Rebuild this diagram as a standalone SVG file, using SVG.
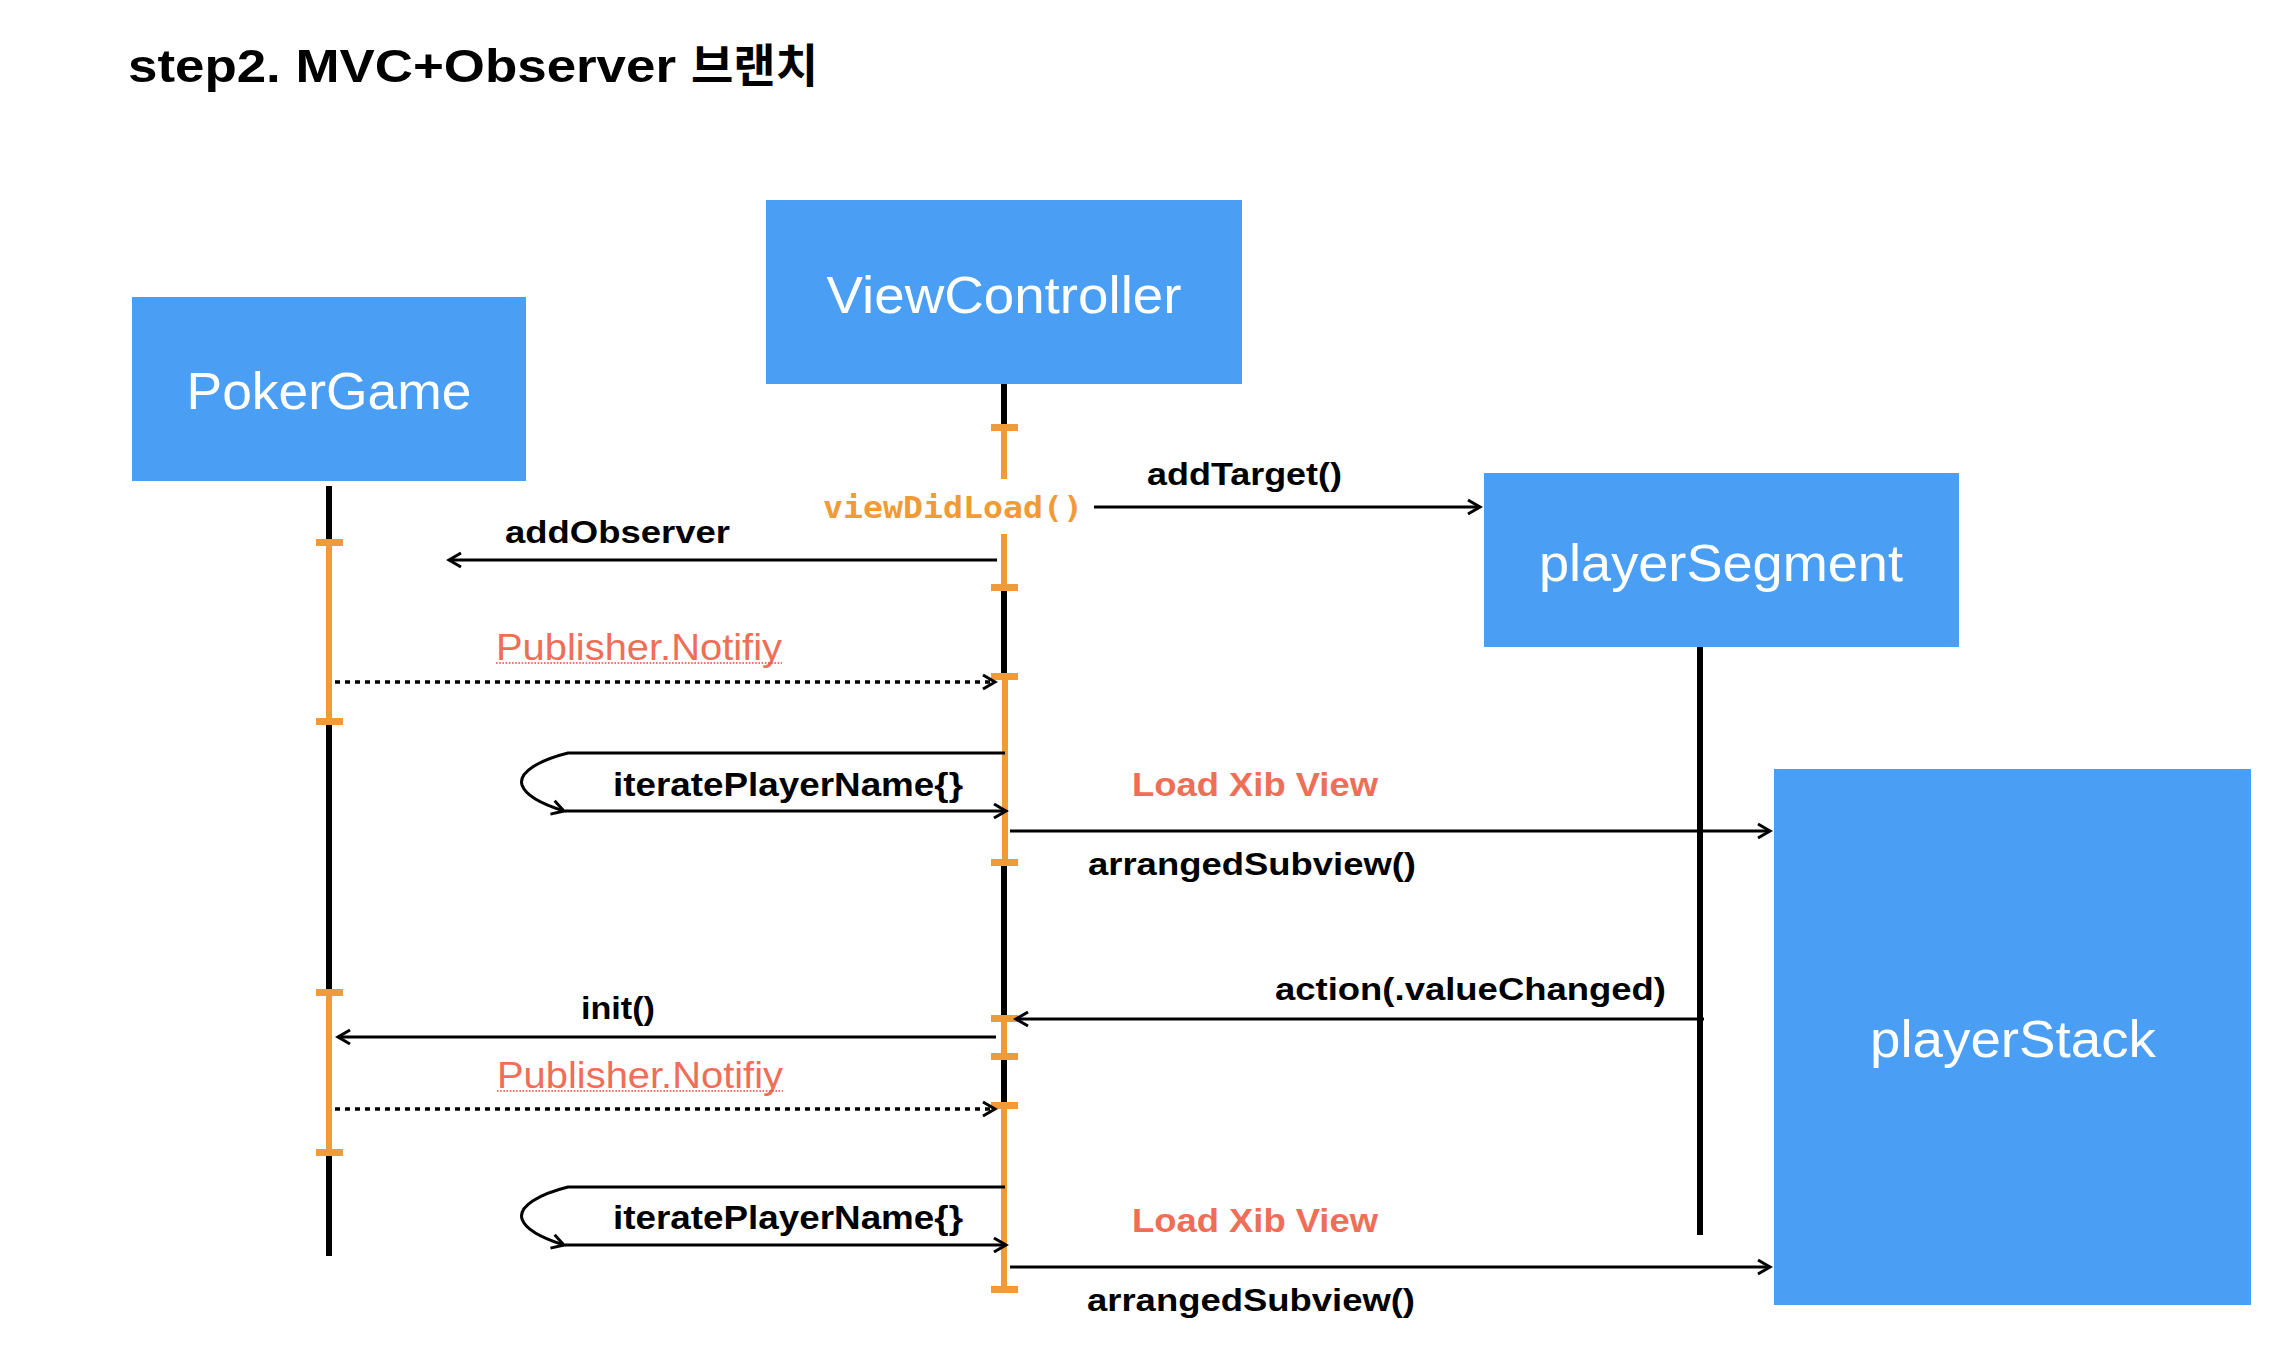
<svg xmlns="http://www.w3.org/2000/svg" width="2292" height="1360" viewBox="0 0 2292 1360">
<style>
.box{fill:#4A9FF5}
.bl{fill:#fff;font-family:"Liberation Sans",Arial,sans-serif;font-size:52px;text-anchor:middle}
.life{stroke:#000;stroke-width:6;fill:none}
.act{stroke:#F19A38;stroke-width:6;fill:none}
.tick{fill:#F19A38}
.msg{stroke:#000;stroke-width:3;fill:none}
.dot{stroke:#000;stroke-width:3.5;fill:none;stroke-dasharray:5 5}
.lb{font-family:"Liberation Sans",Arial,sans-serif;font-weight:bold;font-size:31px;fill:#000}
.red{font-family:"Liberation Sans",Arial,sans-serif;font-size:37px;fill:#EF6E57}
.redb{font-family:"Liberation Sans",Arial,sans-serif;font-weight:bold;font-size:33px;fill:#EF6E57}
.mono{font-family:"DejaVu Sans Mono","Liberation Mono",monospace;font-weight:bold;font-size:30px;fill:#F19A38}
.uline{stroke:#E8483A;stroke-width:1.6;stroke-dasharray:1.6 1.6}
</style>
<defs>
<marker id="arr" markerUnits="userSpaceOnUse" markerWidth="20" markerHeight="20" viewBox="-15 -10 18 20" refX="0" refY="0" orient="auto">
<path d="M-12,-7 L0,0 L-12,7" fill="none" stroke="#000" stroke-width="3"/>
</marker>
</defs>
<rect width="2292" height="1360" fill="#fff"/>
<text x="128" y="82" style="font-family:'Liberation Sans','Noto Sans CJK KR',sans-serif;font-weight:bold;font-size:46px;fill:#000"><tspan textLength="548" lengthAdjust="spacingAndGlyphs">step2. MVC+Observer</tspan><tspan x="691" style="font-family:'Noto Sans CJK KR',sans-serif">브랜치</tspan></text>

<g id="PokerGame">
<rect class="box" x="132" y="297" width="394" height="184"/>
<text class="bl" x="329" y="409" textLength="285" lengthAdjust="spacingAndGlyphs">PokerGame</text>
<path class="life" d="M329,486 V542 M329,721 V992 M329,1152 V1256"/>
<path class="act" d="M329,542 V721 M329,992 V1152"/>
<rect class="tick" x="316" y="539" width="27" height="7"/>
<rect class="tick" x="316" y="718" width="27" height="7"/>
<rect class="tick" x="316" y="989" width="27" height="7"/>
<rect class="tick" x="316" y="1149" width="27" height="7"/>
</g>

<g id="ViewController">
<rect class="box" x="766" y="200" width="476" height="184"/>
<text class="bl" x="1004" y="313" textLength="355" lengthAdjust="spacingAndGlyphs">ViewController</text>
<path class="life" d="M1004,384 V427 M1004,587 V677 M1004,862 V1018 M1004,1056 V1106"/>
<path class="act" d="M1004,427 V479 M1004,534 V587 M1005,677 V862 M1004,1018 V1056 M1004,1106 V1290"/>
<rect class="tick" x="991" y="424" width="27" height="7"/>
<rect class="tick" x="991" y="584" width="27" height="7"/>
<rect class="tick" x="991" y="673" width="27" height="7"/>
<rect class="tick" x="991" y="859" width="27" height="7"/>
<rect class="tick" x="991" y="1015" width="27" height="7"/>
<rect class="tick" x="991" y="1053" width="27" height="7"/>
<rect class="tick" x="991" y="1102" width="27" height="7"/>
<rect class="tick" x="991" y="1286" width="27" height="7"/>
<text class="mono" x="823" y="518" textLength="260" lengthAdjust="spacingAndGlyphs">viewDidLoad()</text>
</g>

<g id="playerSegment">
<rect class="box" x="1484" y="473" width="475" height="174"/>
<text class="bl" x="1721" y="581" textLength="364" lengthAdjust="spacingAndGlyphs">playerSegment</text>
<path class="life" d="M1700,647 V1235"/>
</g>

<g id="playerStack">
<rect class="box" x="1774" y="769" width="477" height="536"/>
<text class="bl" x="2013" y="1057" textLength="286" lengthAdjust="spacingAndGlyphs">playerStack</text>
</g>

<g id="connectors">
<path class="msg" d="M1094,507 H1480" marker-end="url(#arr)"/>
<path class="msg" d="M997,560 H449" marker-end="url(#arr)"/>
<path class="dot" d="M335,682 H995" marker-end="url(#arr)"/>
<path class="msg" d="M1005,753 H568 C540,760 518,772 522,785 C526,797 548,806 564,811" marker-end="url(#arr)"/>
<path class="msg" d="M565,811 H1006" marker-end="url(#arr)"/>
<path class="msg" d="M1010,831 H1770" marker-end="url(#arr)"/>
<path class="msg" d="M1704,1019 H1016" marker-end="url(#arr)"/>
<path class="msg" d="M996,1037 H338" marker-end="url(#arr)"/>
<path class="dot" d="M335,1109 H995" marker-end="url(#arr)"/>
<path class="msg" d="M1005,1187 H568 C540,1194 518,1206 522,1219 C526,1231 548,1240 564,1245" marker-end="url(#arr)"/>
<path class="msg" d="M565,1245 H1006" marker-end="url(#arr)"/>
<path class="msg" d="M1010,1267 H1770" marker-end="url(#arr)"/>

<text class="lb" x="1147" y="485" textLength="195" lengthAdjust="spacingAndGlyphs">addTarget()</text>
<text class="lb" x="505" y="543" textLength="225" lengthAdjust="spacingAndGlyphs">addObserver</text>
<text class="red" x="496" y="660" textLength="286" lengthAdjust="spacingAndGlyphs">Publisher.Notifiy</text>
<line class="uline" x1="496" y1="663" x2="782" y2="663"/>
<text class="lb" x="613" y="796" textLength="350" lengthAdjust="spacingAndGlyphs" style="font-size:33px">iteratePlayerName{}</text>
<text class="redb" x="1132" y="796" textLength="246" lengthAdjust="spacingAndGlyphs">Load Xib View</text>
<text class="lb" x="1088" y="875" textLength="328" lengthAdjust="spacingAndGlyphs">arrangedSubview()</text>
<text class="lb" x="1275" y="1000" textLength="391" lengthAdjust="spacingAndGlyphs">action(.valueChanged)</text>
<text class="lb" x="581" y="1019" textLength="74" lengthAdjust="spacingAndGlyphs">init()</text>
<text class="red" x="497" y="1088" textLength="286" lengthAdjust="spacingAndGlyphs">Publisher.Notifiy</text>
<line class="uline" x1="497" y1="1091" x2="783" y2="1091"/>
<text class="lb" x="613" y="1229" textLength="350" lengthAdjust="spacingAndGlyphs" style="font-size:33px">iteratePlayerName{}</text>
<text class="redb" x="1132" y="1232" textLength="246" lengthAdjust="spacingAndGlyphs">Load Xib View</text>
<text class="lb" x="1087" y="1311" textLength="328" lengthAdjust="spacingAndGlyphs">arrangedSubview()</text>
</g>
</svg>
